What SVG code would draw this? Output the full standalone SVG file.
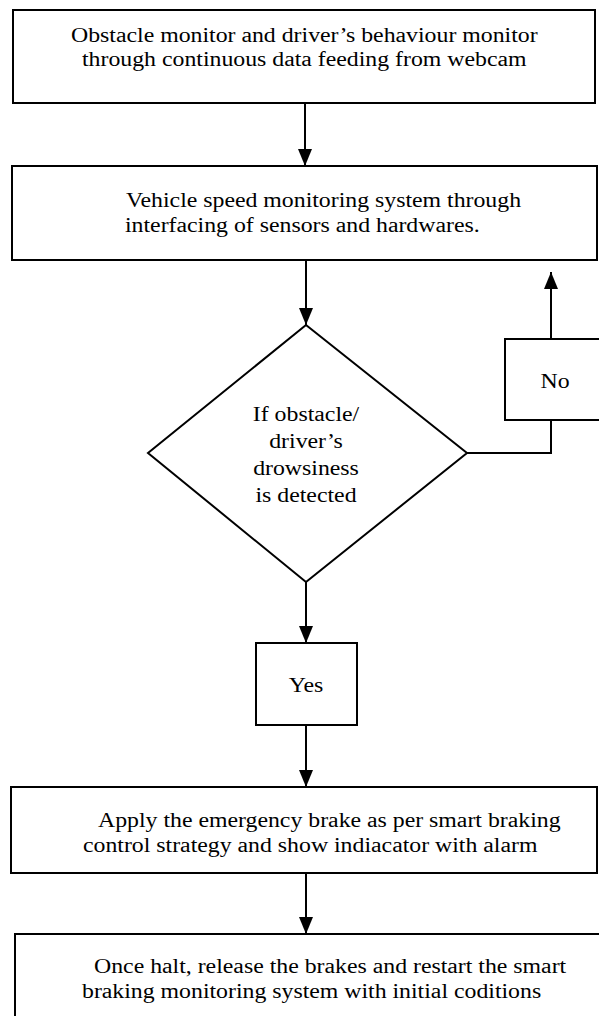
<svg xmlns="http://www.w3.org/2000/svg" width="599" height="1016" viewBox="0 0 599 1016">
  <style>
    .box { fill: #ffffff; stroke: #000000; stroke-width: 2; }
    .t { font-family: "Liberation Serif", "Times New Roman", serif; font-size: 20px; fill: #000000; }
    .c { text-anchor: middle; }
    .conn { fill: none; stroke: #000000; stroke-width: 2; }
  </style>
  <defs>
    <marker id="arrow" markerUnits="userSpaceOnUse" markerWidth="17" markerHeight="14" refX="17" refY="7" orient="auto">
      <path d="M0,0 L17,7 L0,14 Z" fill="#000000"/>
    </marker>
  </defs>
  <rect width="599" height="1016" fill="#ffffff"/>

  <g id="connectors">
    <line class="conn" x1="305" y1="103" x2="305" y2="166" marker-end="url(#arrow)"/>
    <line class="conn" x1="306" y1="260" x2="306" y2="325" marker-end="url(#arrow)"/>
    <path class="conn" d="M467,453 H551 V420"/>
    <line class="conn" x1="551" y1="339" x2="551" y2="272" marker-end="url(#arrow)"/>
    <line class="conn" x1="306" y1="582" x2="306" y2="643" marker-end="url(#arrow)"/>
    <line class="conn" x1="306" y1="725" x2="306" y2="787" marker-end="url(#arrow)"/>
    <line class="conn" x1="306" y1="873" x2="306" y2="934" marker-end="url(#arrow)"/>
  </g>

  <g id="node-monitor">
    <rect class="box" x="13" y="10" width="582" height="93"/>
    <g transform="translate(71,0) scale(1.19,1)"><text class="t" x="0" y="42">Obstacle monitor and driver’s behaviour monitor</text></g>
    <g transform="translate(82,0) scale(1.19,1)"><text class="t" x="0" y="66">through continuous data feeding from webcam</text></g>
  </g>

  <g id="node-speed">
    <rect class="box" x="12" y="166" width="585" height="94"/>
    <g transform="translate(126,0) scale(1.19,1)"><text class="t" x="0" y="207">Vehicle speed monitoring system through</text></g>
    <g transform="translate(125,0) scale(1.19,1)"><text class="t" x="0" y="232">interfacing of sensors and hardwares.</text></g>
  </g>

  <g id="node-decision">
    <polygon class="box" points="306,325 467,453 306,582 148,453"/>
    <g transform="translate(306,0) scale(1.19,1)">
      <text class="t c" x="0" y="421">If obstacle/</text>
      <text class="t c" x="0" y="448">driver’s</text>
      <text class="t c" x="0" y="475">drowsiness</text>
      <text class="t c" x="0" y="502">is detected</text>
    </g>
  </g>

  <g id="node-no">
    <rect class="box" x="505" y="339" width="100" height="81"/>
    <g transform="translate(555,0) scale(1.19,1)"><text class="t c" x="0" y="388">No</text></g>
  </g>

  <g id="node-yes">
    <rect class="box" x="256" y="643" width="101" height="82"/>
    <g transform="translate(306,0) scale(1.19,1)"><text class="t c" x="0" y="692">Yes</text></g>
  </g>

  <g id="node-brake">
    <rect class="box" x="11" y="787" width="586" height="86"/>
    <g transform="translate(98,0) scale(1.19,1)"><text class="t" x="0" y="827">Apply the emergency brake as per smart braking</text></g>
    <g transform="translate(83,0) scale(1.19,1)"><text class="t" x="0" y="852">control strategy and show indiacator with alarm</text></g>
  </g>

  <g id="node-restart">
    <rect class="box" x="15" y="934" width="600" height="100"/>
    <g transform="translate(94,0) scale(1.19,1)"><text class="t" x="0" y="973">Once halt, release the brakes and restart the smart</text></g>
    <g transform="translate(82,0) scale(1.19,1)"><text class="t" x="0" y="998">braking monitoring system with initial coditions</text></g>
  </g>
</svg>
